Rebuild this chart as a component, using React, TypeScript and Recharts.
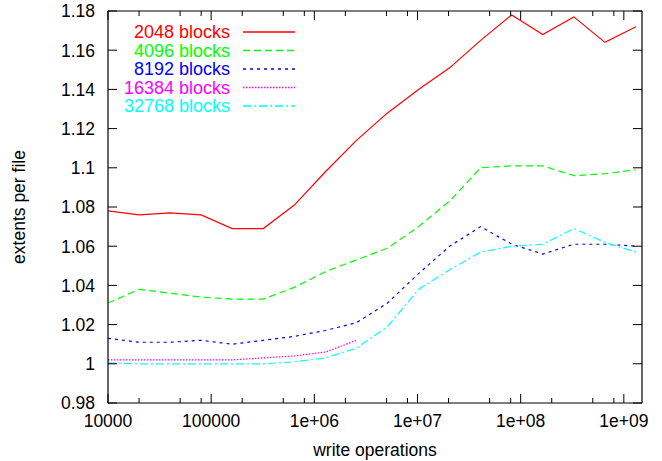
import { LineChart, Line, XAxis, YAxis, Legend, Label } from 'recharts'

// write operations (x) and extents per file for each block size
const writeOps = [
  10000, 20000, 40000, 80000, 160000, 320000, 640000, 1280000, 2560000,
  5120000, 10240000, 20480000, 40960000, 81920000, 163840000, 327680000,
  655360000, 1310720000,
]
const blocks2048 = [1.078, 1.076, 1.077, 1.076, 1.069, 1.069, 1.081, 1.098, 1.114, 1.128, 1.14, 1.151, 1.165, 1.178, 1.168, 1.177, 1.164, 1.172]
const blocks4096 = [1.031, 1.038, 1.036, 1.034, 1.033, 1.033, 1.039, 1.047, 1.053, 1.059, 1.07, 1.083, 1.1, 1.101, 1.101, 1.096, 1.097, 1.099]
const blocks8192 = [1.013, 1.011, 1.011, 1.012, 1.01, 1.012, 1.014, 1.017, 1.021, 1.031, 1.046, 1.06, 1.07, 1.061, 1.056, 1.061, 1.061, 1.06]
const blocks16384 = [1.002, 1.002, 1.002, 1.002, 1.002, 1.003, 1.004, 1.006, 1.012]
const blocks32768 = [1.0005, 1.0, 1.0, 1.0, 1.0, 1.0, 1.001, 1.003, 1.008, 1.019, 1.038, 1.048, 1.057, 1.06, 1.061, 1.069, 1.062, 1.057]

const xMajorTicks = [10000, 100000, 1000000, 10000000, 100000000, 1000000000]
const xTickLabels = ['10000', '100000', '1e+06', '1e+07', '1e+08', '1e+09']
const xMinorTicks = [
  20000, 50000, 80000, 200000, 500000, 800000, 2000000, 5000000, 8000000,
  20000000, 50000000, 80000000, 200000000, 500000000, 800000000,
]
const yTicks = [0.98, 1, 1.02, 1.04, 1.06, 1.08, 1.1, 1.12, 1.14, 1.16, 1.18]

const series = [
  { key: 'b2048', name: '2048 blocks', color: '#ff0000', dash: undefined },
  { key: 'b4096', name: '4096 blocks', color: '#00ff00', dash: '7 4' },
  { key: 'b8192', name: '8192 blocks', color: '#0000ff', dash: '3 4' },
  { key: 'b16384', name: '16384 blocks', color: '#ff00ff', dash: '1.5 1.5' },
  { key: 'b32768', name: '32768 blocks', color: '#00ffff', dash: '8 3 2 3' },
]

const data = writeOps.map((ops, i) => ({
  ops,
  b2048: blocks2048[i],
  b4096: blocks4096[i],
  b8192: blocks8192[i],
  b16384: i < blocks16384.length ? blocks16384[i] : null,
  b32768: blocks32768[i],
}))

const FONT = '"Liberation Sans", Arial, Helvetica, sans-serif'
const W = 662
const H = 461

const isMajor = (v: number) => xMajorTicks.includes(v)

const BottomTick = ({ x, y, payload }: any) => {
  const major = isMajor(payload.value)
  const idx = xMajorTicks.indexOf(payload.value)
  return (
    <g>
      <line x1={x} y1={y} x2={x} y2={y - (major ? 9 : 5)} stroke="#000" strokeWidth={1} />
      {major && (
        <text x={x} y={y + 24} textAnchor="middle" fontSize={17.5} fontFamily={FONT} fill="#000">
          {xTickLabels[idx]}
        </text>
      )}
    </g>
  )
}

const TopTick = ({ x, y, payload }: any) => {
  const major = isMajor(payload.value)
  return <line x1={x} y1={y} x2={x} y2={y + (major ? 9 : 5)} stroke="#000" strokeWidth={1} />
}

const LeftTick = ({ x, y, payload }: any) => (
  <g>
    <line x1={x} y1={y} x2={x + 9} y2={y} stroke="#000" strokeWidth={1} />
    <text x={x - 13} y={y} dy="0.36em" textAnchor="end" fontSize={17.5} fontFamily={FONT} fill="#000">
      {Number(payload.value.toFixed(2)).toString()}
    </text>
  </g>
)

const RightTick = ({ x, y }: any) => (
  <line x1={x} y1={y} x2={x - 9} y2={y} stroke="#000" strokeWidth={1} />
)

const LegendBox = () => (
  <svg width={210} height={100} style={{ display: 'block' }}>
    {series.map((s, i) => {
      const cy = 12 + i * 18.5
      return (
        <g key={s.key}>
          <text x={130} y={cy} dy="0.36em" textAnchor="end" fontSize={18} fontFamily={FONT} fill={s.color}>
            {s.name}
          </text>
          <line x1={143} y1={cy} x2={195} y2={cy} stroke={s.color} strokeWidth={1.3} strokeDasharray={s.dash} />
        </g>
      )
    })}
  </svg>
)

const border = { stroke: '#000', strokeWidth: 1.2 }

export default function App() {
  return (
    <div style={{ position: 'absolute', left: 0, top: 0, background: '#fff' }}>
      <LineChart width={W} height={H} data={data} margin={{ top: 10, right: 19, bottom: 57, left: 107 }}>
        <XAxis
          dataKey="ops"
          type="number"
          scale="log"
          domain={[10000, 1500000000]}
          allowDataOverflow
          ticks={[...xMajorTicks, ...xMinorTicks]}
          interval={0}
          height={1}
          tickSize={0}
          tickMargin={0}
          tickLine={false}
          axisLine={border}
          tick={<BottomTick />}
        >
          <Label
            content={({ viewBox }: any) => (
              <text
                x={viewBox.x + viewBox.width / 2}
                y={viewBox.y + 53}
                textAnchor="middle"
                fontSize={17.5}
                fontFamily={FONT}
                fill="#000"
              >
                write operations
              </text>
            )}
          />
        </XAxis>
        <XAxis
          xAxisId="top"
          orientation="top"
          dataKey="ops"
          type="number"
          scale="log"
          domain={[10000, 1500000000]}
          allowDataOverflow
          ticks={[...xMajorTicks, ...xMinorTicks]}
          interval={0}
          height={1}
          tickSize={0}
          tickMargin={0}
          tickLine={false}
          axisLine={border}
          tick={<TopTick />}
        />
        <YAxis
          type="number"
          domain={[0.98, 1.18]}
          allowDataOverflow
          ticks={yTicks}
          interval={0}
          width={1}
          tickSize={0}
          tickMargin={0}
          tickLine={false}
          axisLine={border}
          tick={<LeftTick />}
        >
          <Label
            content={({ viewBox }: any) => {
              const cx = viewBox.x - 88
              const cy = viewBox.y + viewBox.height / 2
              return (
                <text
                  x={cx}
                  y={cy}
                  transform={`rotate(-90 ${cx} ${cy})`}
                  textAnchor="middle"
                  dy="0.36em"
                  fontSize={17.5}
                  fontFamily={FONT}
                  fill="#000"
                >
                  extents per file
                </text>
              )
            }}
          />
        </YAxis>
        <YAxis
          yAxisId="right"
          orientation="right"
          type="number"
          domain={[0.98, 1.18]}
          allowDataOverflow
          ticks={yTicks}
          interval={0}
          width={1}
          tickSize={0}
          tickMargin={0}
          tickLine={false}
          axisLine={border}
          tick={<RightTick />}
        />
        <Legend
          layout="vertical"
          align="center"
          verticalAlign="middle"
          wrapperStyle={{ left: 100, top: 20, width: 210, height: 100 }}
          content={<LegendBox />}
        />
        {series.map((s) => (
          <Line
            key={s.key}
            dataKey={s.key}
            name={s.name}
            type="linear"
            stroke={s.color}
            strokeWidth={1.2}
            strokeDasharray={s.dash}
            dot={false}
            activeDot={false}
            connectNulls={false}
            isAnimationActive={false}
          />
        ))}
      </LineChart>
    </div>
  )
}
